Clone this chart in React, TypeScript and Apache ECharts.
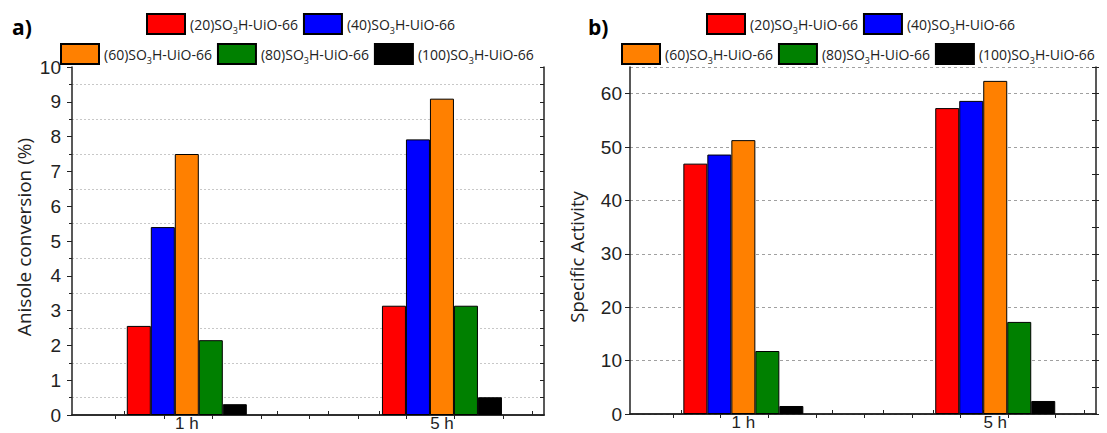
import React, { useEffect, useRef } from "react";
import * as echarts from "echarts";

const CATEGORIES = ["1 h", "5 h"];
const CAT_POS = [1, 2];
const SERIES_NAMES = [
  "(20)SO3H-UiO-66",
  "(40)SO3H-UiO-66",
  "(60)SO3H-UiO-66",
  "(80)SO3H-UiO-66",
  "(100)SO3H-UiO-66",
];
const COLORS = ["#FF0000", "#0000FF", "#FF8000", "#008000", "#000000"];
// Anisole conversion (%) at 1 h, 5 h
const CONV_20 = [2.56, 3.14];
const CONV_40 = [5.4, 7.92];
const CONV_60 = [7.5, 9.09];
const CONV_80 = [2.15, 3.14];
const CONV_100 = [0.31, 0.51];
// Specific activity at 1 h, 5 h
const ACT_20 = [46.9, 57.3];
const ACT_40 = [48.6, 58.65];
const ACT_60 = [51.3, 62.4];
const ACT_80 = [11.8, 17.25];
const ACT_100 = [1.5, 2.44];

const CONVERSION = [CONV_20, CONV_40, CONV_60, CONV_80, CONV_100];
const ACTIVITY = [ACT_20, ACT_40, ACT_60, ACT_80, ACT_100];

const X_MIN = 0.55;
const X_MAX = 2.4;
const BOTTOM_TICKS = [0.754, 0.954, 1.154, 1.354, 1.554, 1.754, 1.954, 2.154, 2.354];
const TOP_TICKS = [0.72, 0.91, 1.1, 1.29, 1.48, 1.67, 1.86, 2.05, 2.24];

const AXIS_COLOR = "#222";
const TICK_FONT = "'Liberation Sans', Arial, sans-serif";
const TEXT_FONT = "Open Sans";

export default function App() {
  const ref = useRef<HTMLDivElement>(null);
  useEffect(() => {
    if (!ref.current) return;
    const chart = echarts.init(ref.current, undefined, { renderer: "svg" });
    const axisLine = { show: true, lineStyle: { color: AXIS_COLOR, width: 1.5 } };
    const tickLine = { color: AXIS_COLOR, width: 1 };
    const labelStyle = { fontFamily: TICK_FONT, fontSize: 19, color: AXIS_COLOR };

    const xAxes: any[] = [];
    [0, 1].forEach((g) => {
      xAxes.push({
        gridIndex: g,
        type: "value",
        min: X_MIN,
        max: X_MAX,
        position: "bottom",
        axisLine,
        axisTick: { show: true, inside: true, length: 4, lineStyle: tickLine, customValues: BOTTOM_TICKS },
        axisLabel: {
          ...labelStyle,
          fontSize: 17,
          lineHeight: 12,
          margin: 2,
          customValues: CAT_POS,
          formatter: (v: number) => CATEGORIES[CAT_POS.indexOf(Math.round(v))] ?? "",
        },
        splitLine: { show: false },
      });
      xAxes.push({
        gridIndex: g,
        type: "value",
        min: X_MIN,
        max: X_MAX,
        position: "top",
        axisLine,
        axisTick: { show: true, inside: true, length: 4, lineStyle: tickLine, customValues: TOP_TICKS },
        axisLabel: { show: false },
        splitLine: { show: false },
      });
    });

    const yAxes: any[] = [
      {
        gridIndex: 0,
        type: "value",
        min: 0,
        max: 10,
        interval: 1,
        axisLine,
        axisTick: { show: true, inside: false, length: 5, lineStyle: tickLine },
        minorTick: { show: true, splitNumber: 2, length: 3, lineStyle: tickLine },
        minorSplitLine: { show: true, lineStyle: { color: "#c8c8c8", type: [2, 2], width: 1 } },
        splitLine: { show: false },
        axisLabel: { ...labelStyle, margin: 11 },
      },
      {
        gridIndex: 0,
        type: "value",
        position: "right",
        min: 0,
        max: 10,
        interval: 0.5,
        axisLine,
        axisTick: { show: true, inside: true, length: 4, lineStyle: tickLine },
        axisLabel: { show: false },
        splitLine: { show: false },
      },
      {
        gridIndex: 1,
        type: "value",
        min: 0,
        max: 65,
        interval: 10,
        axisLine,
        axisTick: { show: true, inside: false, length: 5, lineStyle: tickLine },
        splitLine: { show: true, lineStyle: { color: "#a0a0a0", type: [3, 3], width: 1 } },
        axisLabel: { ...labelStyle, margin: 8, showMaxLabel: false },
      },
      {
        gridIndex: 1,
        type: "value",
        min: 0,
        max: 65,
        interval: 5,
        axisLine: { show: false },
        axisTick: { show: true, inside: false, length: 3, lineStyle: tickLine },
        axisLabel: { show: false },
        splitLine: { show: false },
      },
      {
        gridIndex: 1,
        type: "value",
        position: "right",
        min: 0,
        max: 65,
        interval: 5,
        axisLine,
        axisTick: { show: true, inside: true, length: 4, lineStyle: tickLine },
        axisLabel: { show: false },
        splitLine: { show: false },
      },
    ];

    const makeSeries = (vals: number[][], xi: number, yi: number) =>
      SERIES_NAMES.map((name, s) => ({
        name,
        type: "bar",
        xAxisIndex: xi,
        yAxisIndex: yi,
        barWidth: 24,
        barGap: "0%",
        itemStyle: { color: COLORS[s], borderColor: "#000", borderWidth: 1 },
        data: CAT_POS.map((x, i) => [x, vals[s][i]]),
      }));

    const legendCommon = {
      orient: "horizontal",
      itemWidth: 38,
      itemHeight: 20,
      itemGap: 5,
      padding: 0,
      icon: "rect",
      selectedMode: false,
      formatter: (n: string) => n.replace("SO3H", "SO{s|3}H"),
      textStyle: {
        fontFamily: TEXT_FONT,
        fontSize: 14,
        color: AXIS_COLOR,
        rich: {
          s: { fontFamily: TEXT_FONT, fontSize: 9, color: AXIS_COLOR, padding: [12, 0, 0, 0] },
        },
      },
    };

    chart.setOption({
      animation: false,
      backgroundColor: "#fff",
      grid: [
        { left: 72, top: 67, width: 472, height: 348, outerBoundsMode: "none", containLabel: false },
        { left: 630, top: 67, width: 466, height: 347, outerBoundsMode: "none", containLabel: false },
      ],
      legend: [
        { ...legendCommon, data: SERIES_NAMES.slice(0, 2), left: 146, top: 13 },
        { ...legendCommon, data: SERIES_NAMES.slice(2), left: 60, top: 43 },
        { ...legendCommon, data: SERIES_NAMES.slice(0, 2), left: 706, top: 13 },
        { ...legendCommon, data: SERIES_NAMES.slice(2), left: 621, top: 43 },
      ],
      xAxis: xAxes,
      yAxis: yAxes,
      series: [...makeSeries(CONVERSION, 0, 0), ...makeSeries(ACTIVITY, 2, 2)],
      graphic: [
        {
          type: "text",
          left: 12,
          top: 16,
          style: { text: "a)", font: `bold 21px "${TEXT_FONT}"`, fill: "#000" },
        },
        {
          type: "text",
          left: 588,
          top: 16,
          style: { text: "b)", font: `bold 21px "${TEXT_FONT}"`, fill: "#000" },
        },
        {
          type: "text",
          x: 24,
          y: 237,
          rotation: Math.PI / 2,
          style: {
            text: "Anisole conversion (%)",
            font: `19px "${TEXT_FONT}"`,
            fill: AXIS_COLOR,
            align: "center",
            verticalAlign: "middle",
          },
        },
        {
          type: "text",
          x: 576,
          y: 257,
          rotation: Math.PI / 2,
          style: {
            text: "Specific Activity",
            font: `18.5px "${TEXT_FONT}"`,
            fill: AXIS_COLOR,
            align: "center",
            verticalAlign: "middle",
          },
        },
      ],
    });
    return () => chart.dispose();
  }, []);
  return (
    <div
      ref={ref}
      style={{ position: "absolute", left: 0, top: 0, width: 1107, height: 433, background: "#fff" }}
    />
  );
}
